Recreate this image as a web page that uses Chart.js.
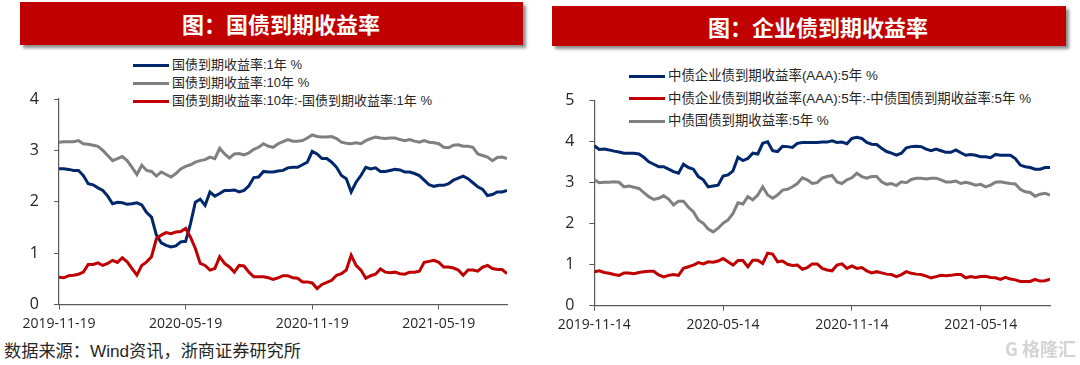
<!DOCTYPE html>
<html>
<head>
<meta charset="utf-8">
<style>
    body { margin: 0; background: #fff; width: 1080px; height: 365px; overflow: hidden; position: relative; font-family: "Liberation Sans", "Noto Sans CJK SC", sans-serif; color: #262626; }
    canvas { position: absolute; }
    .banner { position: absolute; background: #c00000; color: #fff; font: bold 22px "Noto Sans CJK SC", sans-serif; box-shadow: 3px 3px 3px rgba(0, 0, 0, .45); box-sizing: border-box; white-space: nowrap; }
    .legend { position: absolute; white-space: nowrap; }
    .legend div { display: flex; align-items: center; }
    .legend i { display: block; width: 36px; height: 3px; margin-right: 3px; }
    #source { position: absolute; left: 4px; top: 340px; font-size: 17.2px; line-height: 22px; white-space: nowrap; }
    #mark { position: absolute; left: 1005px; top: 337px; font: bold 18px "Noto Sans CJK SC", sans-serif; line-height: 22px; color: #d4d4d4; white-space: nowrap; }
</style>
</head>
<body>
<div class="banner" style="left:20px;top:2px;width:503px;height:43px;line-height:43px;padding-left:162px">图&#xFF1A;国债到期收益率</div>
<div class="banner" style="left:552px;top:6px;width:514px;height:40px;line-height:40px;padding-left:156px">图&#xFF1A;企业债到期收益率</div>
<div class="legend" id="legendLeft" style="left:133px;top:56px;line-height:18px;font-size:13px"></div>
<div class="legend" id="legendRight" style="left:629px;top:65px;line-height:22.5px;font-size:13.4px"></div>
<canvas id="chartLeft" width="530" height="260" style="left:0;top:80px"></canvas>
<canvas id="chartRight" width="530" height="260" style="left:540px;top:80px"></canvas>
<div id="source">数据来源&#xFF1A;Wind资讯&#xFF0C;浙商证券研究所</div>
<div id="mark">G 格隆汇</div>
<script src="https://cdn.jsdelivr.net/npm/chart.js"></script>
<script>
    const NAVY = '#00266b', GREY = '#808080', RED = '#c00000';

    // weekly readings, week 0 = first date on the axis
    const govTickWeeks = [0, 26, 52, 78];
    const govTickLabels = ['2019-11-19', '2020-05-19', '2020-11-19', '2021-05-19'];
    const gov1y = [2.64, 2.64, 2.63, 2.61, 2.61, 2.51, 2.35, 2.33, 2.27, 2.22, 2.11, 1.96, 1.99, 1.98, 1.95, 1.96, 1.98, 1.94, 1.79, 1.70, 1.35, 1.20, 1.15, 1.12, 1.14, 1.22, 1.23, 1.57, 1.99, 2.05, 1.93, 2.19, 2.11, 2.16, 2.22, 2.22, 2.23, 2.19, 2.22, 2.31, 2.47, 2.48, 2.59, 2.58, 2.58, 2.60,
        2.61, 2.66, 2.67, 2.67, 2.72, 2.77, 2.98, 2.93, 2.84, 2.84, 2.77, 2.67, 2.51, 2.45, 2.19, 2.38, 2.51, 2.67, 2.64, 2.66, 2.59, 2.59, 2.61, 2.63, 2.62, 2.58, 2.58, 2.55, 2.51, 2.42, 2.33, 2.30, 2.32, 2.32, 2.35, 2.42, 2.46, 2.50, 2.45, 2.37, 2.29, 2.24, 2.12, 2.14, 2.19, 2.19, 2.22];
    const gov10y = [3.16, 3.17, 3.17, 3.17, 3.19, 3.13, 3.12, 3.10, 3.08, 3.00, 2.90, 2.80, 2.84, 2.88, 2.80, 2.67, 2.53, 2.71, 2.61, 2.59, 2.50, 2.58, 2.53, 2.48, 2.55, 2.64, 2.69, 2.72, 2.77, 2.80, 2.82, 2.87, 2.84, 3.04, 2.93, 2.85, 2.93, 2.94, 2.91, 2.95, 3.02, 3.06, 3.13, 3.08, 3.06, 3.13,
        3.17, 3.21, 3.18, 3.18, 3.19, 3.24, 3.30, 3.27, 3.26, 3.26, 3.27, 3.23, 3.16, 3.14, 3.13, 3.15, 3.13, 3.19, 3.23, 3.26, 3.24, 3.23, 3.24, 3.24, 3.21, 3.19, 3.21, 3.18, 3.16, 3.19, 3.16, 3.15, 3.13, 3.06, 3.05, 3.10, 3.11, 3.08, 3.08, 3.06, 2.93, 2.90, 2.87, 2.80, 2.86, 2.87, 2.84];
    const govSpread = [0.53, 0.52, 0.56, 0.57, 0.59, 0.63, 0.78, 0.78, 0.81, 0.76, 0.80, 0.86, 0.82, 0.91, 0.83, 0.70, 0.57, 0.76, 0.83, 0.93, 1.28, 1.35, 1.40, 1.38, 1.41, 1.42, 1.48, 1.31, 1.09, 0.80, 0.76, 0.67, 0.70, 0.93, 0.80, 0.73, 0.63, 0.76, 0.75, 0.63, 0.54, 0.54, 0.54, 0.52, 0.49, 0.52,
        0.56, 0.56, 0.52, 0.51, 0.44, 0.44, 0.42, 0.31, 0.39, 0.43, 0.47, 0.57, 0.60, 0.67, 0.96, 0.76, 0.67, 0.51, 0.56, 0.59, 0.69, 0.63, 0.62, 0.63, 0.60, 0.59, 0.63, 0.63, 0.65, 0.82, 0.84, 0.86, 0.82, 0.73, 0.73, 0.71, 0.67, 0.57, 0.67, 0.67, 0.65, 0.73, 0.76, 0.70, 0.68, 0.68, 0.60];

    const corpTickWeeks = [0, 26, 52, 78];
    const corpTickLabels = ['2019-11-14', '2020-05-14', '2020-11-14', '2021-05-14'];
    const corpAaa5y = [3.90, 3.81, 3.82, 3.80, 3.77, 3.75, 3.72, 3.72, 3.72, 3.70, 3.62, 3.51, 3.45, 3.39, 3.39, 3.33, 3.27, 3.23, 3.45, 3.37, 3.33, 3.15, 3.07, 2.90, 2.92, 2.94, 3.16, 3.19, 3.29, 3.62, 3.54, 3.59, 3.72, 3.70, 3.96, 4.00, 3.78, 3.76, 3.89, 3.88, 3.86, 3.96, 3.98, 3.98, 3.98,
        3.98, 3.99, 3.99, 4.02, 3.98, 3.99, 3.95, 4.08, 4.11, 4.08, 3.98, 3.94, 3.93, 3.84, 3.76, 3.72, 3.67, 3.72, 3.85, 3.88, 3.89, 3.88, 3.82, 3.78, 3.82, 3.78, 3.74, 3.74, 3.80, 3.73, 3.67, 3.69, 3.67, 3.63, 3.63, 3.61, 3.69, 3.67, 3.67, 3.67, 3.59, 3.43, 3.39, 3.37, 3.33, 3.33, 3.37, 3.37];
    const corpSpread = [0.83, 0.85, 0.81, 0.79, 0.76, 0.74, 0.80, 0.80, 0.78, 0.81, 0.83, 0.84, 0.84, 0.75, 0.70, 0.74, 0.76, 0.74, 0.91, 0.95, 0.99, 1.05, 1.02, 1.07, 1.06, 1.09, 1.15, 1.07, 0.99, 1.10, 1.10, 0.95, 1.11, 1.11, 1.03, 1.28, 1.26, 1.07, 1.09, 1.01, 0.98, 0.99, 0.89, 0.93, 1.02,
        1.02, 0.91, 0.87, 0.85, 0.99, 1.02, 0.91, 0.97, 0.91, 0.93, 0.85, 0.80, 0.83, 0.80, 0.77, 0.76, 0.71, 0.76, 0.83, 0.79, 0.77, 0.76, 0.72, 0.68, 0.71, 0.74, 0.73, 0.74, 0.76, 0.76, 0.68, 0.71, 0.69, 0.71, 0.72, 0.69, 0.68, 0.64, 0.69, 0.65, 0.63, 0.59, 0.59, 0.59, 0.64, 0.60, 0.61, 0.65];
    const corpGov5y = [3.07, 3.00, 3.01, 3.01, 3.02, 3.01, 2.90, 2.92, 2.89, 2.86, 2.76, 2.66, 2.59, 2.62, 2.68, 2.60, 2.46, 2.55, 2.55, 2.40, 2.29, 2.09, 2.01, 1.87, 1.80, 1.89, 2.01, 2.09, 2.25, 2.51, 2.48, 2.66, 2.58, 2.70, 2.90, 2.70, 2.62, 2.70, 2.82, 2.84, 2.90, 2.98, 3.12, 3.07, 2.98,
        3.00, 3.11, 3.15, 3.18, 3.02, 2.98, 3.07, 3.12, 3.23, 3.15, 3.11, 3.15, 3.15, 3.02, 2.96, 2.98, 2.93, 3.02, 3.00, 3.08, 3.11, 3.11, 3.09, 3.11, 3.11, 3.07, 3.02, 3.02, 3.04, 2.98, 3.01, 2.98, 2.94, 2.96, 2.90, 2.94, 3.01, 3.02, 3.00, 2.98, 2.97, 2.84, 2.78, 2.76, 2.67, 2.72, 2.74, 2.70];

    const toPoints = values => values.map((y, x) => ({ x, y }));

    const lineChart = (id, legendId, series, tickWeeks, tickLabels, yMax, plot) => {
        const datasets = series.map(s => ({
            label: s.label,
            data: toPoints(s.values),
            borderColor: s.color,
            borderWidth: 3,
            pointRadius: 0,
            tension: 0,
            order: s.order
        }));
        const axisGrid = { drawOnChartArea: false, color: '#595959', tickLength: 5 };
        const axisBorder = { color: '#595959', width: 1.2 };
        new Chart(document.getElementById(id).getContext('2d'), {
            type: 'line',
            data: { datasets },
            options: {
                responsive: false,
                animation: false,
                layout: { padding: { top: plot.top, right: plot.right, left: 0, bottom: 0 } },
                plugins: { legend: { display: false }, tooltip: { enabled: false } },
                scales: {
                    x: {
                        type: 'linear',
                        min: 0,
                        max: series[0].values.length - 1,
                        grid: axisGrid,
                        border: axisBorder,
                        afterBuildTicks: axis => { axis.ticks = tickWeeks.map(value => ({ value })); },
                        afterFit: axis => { axis.height = plot.xHeight; axis.paddingLeft = 0; axis.paddingRight = 0; },
                        ticks: {
                            autoSkip: false,
                            maxRotation: 0,
                            padding: 6,
                            color: '#262626',
                            font: { family: '"Open Sans", sans-serif', size: 14 },
                            callback: v => tickLabels[tickWeeks.indexOf(v)]
                        }
                    },
                    y: {
                        min: 0,
                        max: yMax,
                        grid: axisGrid,
                        border: axisBorder,
                        afterFit: axis => { axis.width = plot.yWidth; axis.paddingTop = 0; axis.paddingBottom = 0; },
                        ticks: { stepSize: 1, padding: 15, color: '#262626', font: { family: '"Open Sans", sans-serif', size: 16 } }
                    }
                }
            }
        });
        const legend = document.getElementById(legendId);
        series.forEach(s => {
            const row = document.createElement('div');
            const swatch = document.createElement('i');
            swatch.style.background = s.color;
            row.appendChild(swatch);
            row.appendChild(document.createTextNode(s.label));
            legend.appendChild(row);
        });
    };

    lineChart('chartLeft', 'legendLeft', [
        { label: '国债到期收益率:1年 %', values: gov1y, color: NAVY, order: 2 },
        { label: '国债到期收益率:10年 %', values: gov10y, color: GREY, order: 3 },
        { label: '国债到期收益率:10年:-国债到期收益率:1年 %', values: govSpread, color: RED, order: 1 }
    ], govTickWeeks, govTickLabels, 4, { top: 19, right: 23, yWidth: 59, xHeight: 35.5 });

    lineChart('chartRight', 'legendRight', [
        { label: '中债企业债到期收益率(AAA):5年 %', values: corpAaa5y, color: NAVY, order: 2 },
        { label: '中债企业债到期收益率(AAA):5年:-中债国债到期收益率:5年 %', values: corpSpread, color: RED, order: 1 },
        { label: '中债国债到期收益率:5年 %', values: corpGov5y, color: GREY, order: 3 }
    ], corpTickWeeks, corpTickLabels, 5, { top: 20.7, right: 20, yWidth: 54.3, xHeight: 34.3 });
</script>
</body>
</html>
